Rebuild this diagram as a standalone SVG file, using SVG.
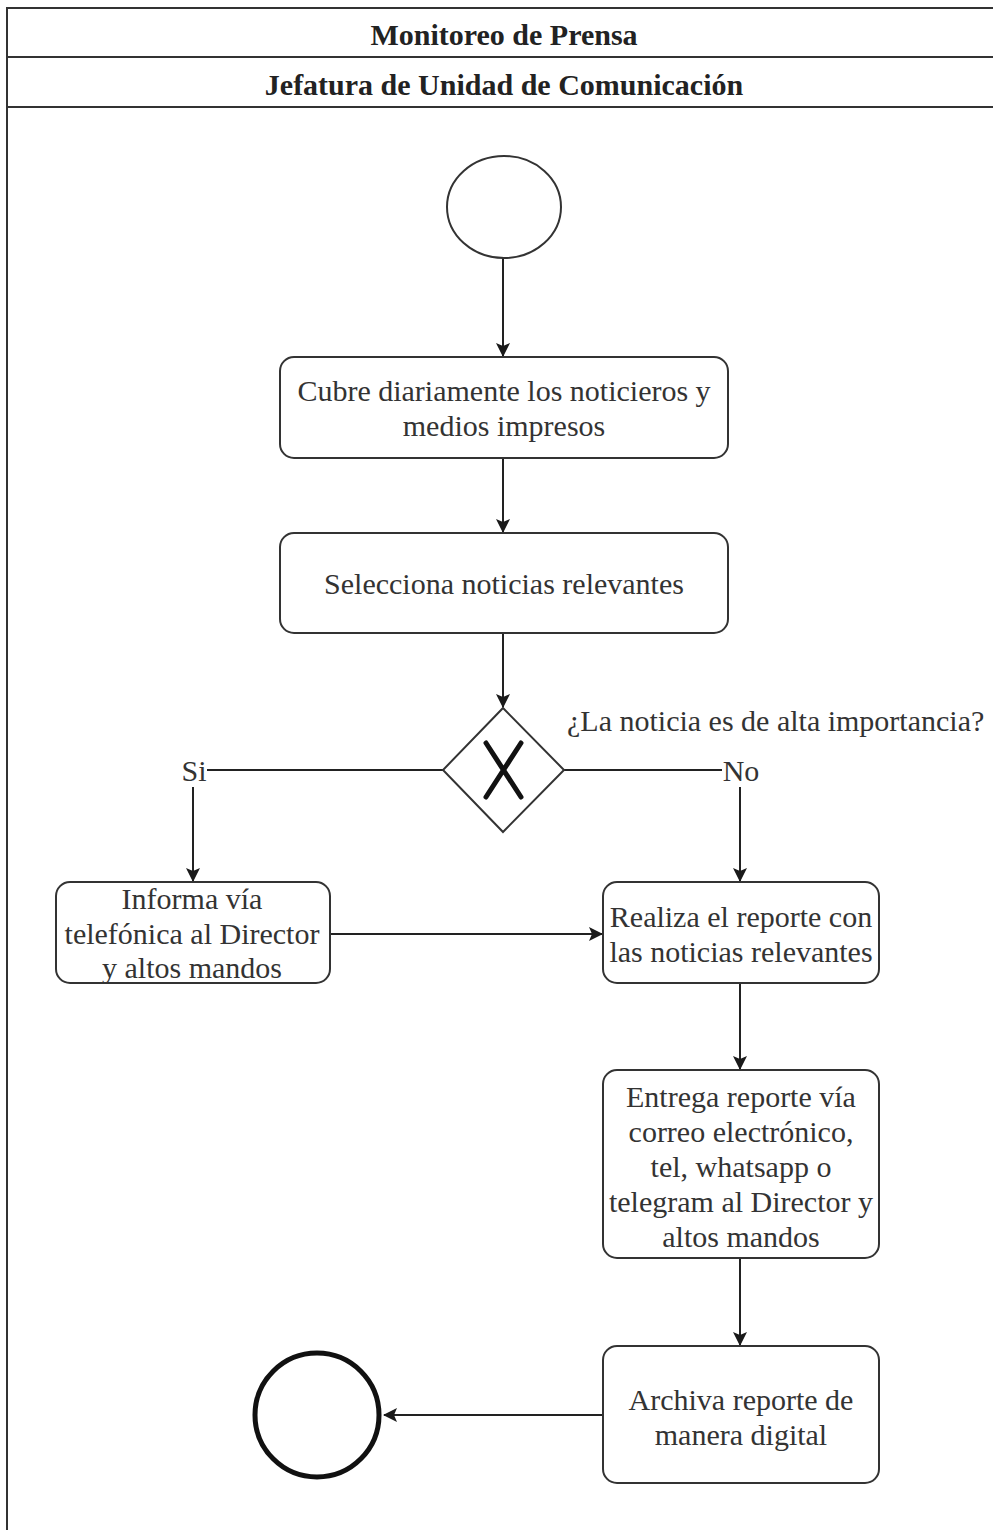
<svg xmlns="http://www.w3.org/2000/svg" width="993" height="1530" viewBox="0 0 993 1530">
<defs>
<marker id="arr" viewBox="0 0 14 14" refX="13" refY="7" markerWidth="14" markerHeight="14" markerUnits="userSpaceOnUse" orient="auto">
<path d="M0,0 L14,7 L0,14 L3,7 Z" fill="#1a1a1a"/>
</marker>
<style>
.frame{fill:none;stroke:#333;stroke-width:2}
.hdr{font-family:"Liberation Serif","Times New Roman",serif;font-weight:bold;font-size:30px;fill:#222;text-anchor:middle}
.box{fill:#fff;stroke:#333;stroke-width:2}
.t{font-family:"Liberation Serif","Times New Roman",serif;font-size:30px;fill:#333;text-anchor:middle}
.lbl{font-family:"Liberation Serif","Times New Roman",serif;font-size:30px;fill:#333}
.edge{fill:none;stroke:#222;stroke-width:2;marker-end:url(#arr)}
.line{fill:none;stroke:#222;stroke-width:2}
</style>
</defs>
<rect width="993" height="1530" fill="#fff"/>
<g id="pool">
<path class="frame" d="M1000,8 H7 V1535"/>
<line class="frame" x1="7" y1="57" x2="1000" y2="57"/>
<line class="frame" x1="7" y1="107" x2="1000" y2="107"/>
<text class="hdr" x="504" y="45">Monitoreo de Prensa</text>
<text class="hdr" x="504" y="95">Jefatura de Unidad de Comunicación</text>
</g>
<g id="connectors">
<line class="edge" x1="503" y1="258" x2="503" y2="356"/>
<line class="edge" x1="503" y1="458" x2="503" y2="532"/>
<line class="edge" x1="503" y1="633" x2="503" y2="707"/>
<path class="line" d="M443,770 H207"/>
<line class="edge" x1="193" y1="787" x2="193" y2="881"/>
<path class="line" d="M564,770 H722"/>
<line class="edge" x1="740" y1="787" x2="740" y2="881"/>
<line class="edge" x1="330" y1="934" x2="602" y2="934"/>
<line class="edge" x1="740" y1="983" x2="740" y2="1069"/>
<line class="edge" x1="740" y1="1258" x2="740" y2="1345"/>
<line class="edge" x1="603" y1="1415" x2="384" y2="1415"/>
<text class="lbl" x="194" y="781" text-anchor="middle">Si</text>
<text class="lbl" x="741" y="781" text-anchor="middle">No</text>
<text class="lbl" x="567" y="731">¿La noticia es de alta importancia?</text>
</g>
<g id="start">
<ellipse cx="504" cy="207" rx="57" ry="51" fill="#fff" stroke="#333" stroke-width="2"/>
</g>
<g id="n1">
<rect class="box" x="280" y="357" width="448" height="101" rx="14"/>
<text class="t" x="504" y="401">Cubre diariamente los noticieros y</text>
<text class="t" x="504" y="436">medios impresos</text>
</g>
<g id="n2">
<rect class="box" x="280" y="533" width="448" height="100" rx="14"/>
<text class="t" x="504" y="594">Selecciona noticias relevantes</text>
</g>
<g id="gateway">
<path d="M503,708 L564,770 L503,832 L443,770 Z" fill="#fff" stroke="#333" stroke-width="2"/>
<path d="M486,743 L521,797 M521,743 L486,797" stroke="#111" stroke-width="5" stroke-linecap="round"/>
</g>
<g id="n3">
<rect class="box" x="56" y="882" width="274" height="101" rx="14"/>
<text class="t" x="192" y="909">Informa vía</text>
<text class="t" x="192" y="944">telefónica al Director</text>
<text class="t" x="192" y="978">y altos mandos</text>
</g>
<g id="n4">
<rect class="box" x="603" y="882" width="276" height="101" rx="14"/>
<text class="t" x="741" y="927">Realiza el reporte con</text>
<text class="t" x="741" y="962">las noticias relevantes</text>
</g>
<g id="n5">
<rect class="box" x="603" y="1070" width="276" height="188" rx="14"/>
<text class="t" x="741" y="1107">Entrega reporte vía</text>
<text class="t" x="741" y="1142">correo electrónico,</text>
<text class="t" x="741" y="1177">tel, whatsapp o</text>
<text class="t" x="741" y="1212">telegram al Director y</text>
<text class="t" x="741" y="1247">altos mandos</text>
</g>
<g id="n6">
<rect class="box" x="603" y="1346" width="276" height="137" rx="14"/>
<text class="t" x="741" y="1410">Archiva reporte de</text>
<text class="t" x="741" y="1445">manera digital</text>
</g>
<g id="end">
<circle cx="317" cy="1415" r="62" fill="#fff" stroke="#111" stroke-width="5"/>
</g>
</svg>
